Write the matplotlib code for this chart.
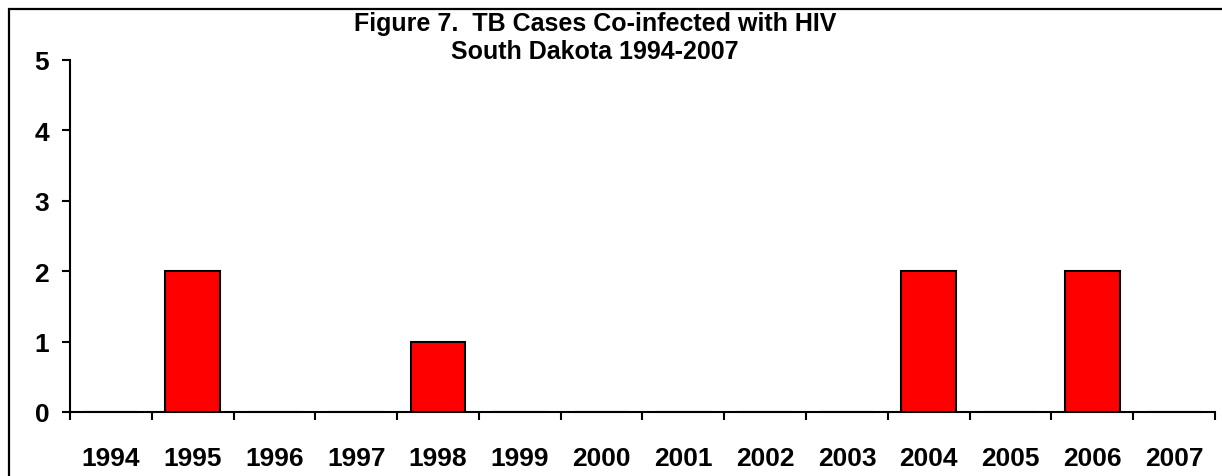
import matplotlib
matplotlib.use("Agg")
import matplotlib.pyplot as plt
from matplotlib.patches import Rectangle

years = ["1994", "1995", "1996", "1997", "1998", "1999", "2000",
         "2001", "2002", "2003", "2004", "2005", "2006", "2007"]
cases = [0, 2, 0, 0, 1, 0, 0, 0, 0, 0, 2, 0, 2, 0]
y_ticks = [0, 1, 2, 3, 4, 5]
title_lines = ["Figure 7.  TB Cases Co-infected with HIV", "South Dakota 1994-2007"]

plt.rcParams['font.family'] = ['Liberation Sans', 'DejaVu Sans']
plt.rcParams['font.weight'] = 'bold'

W, H = 1222, 477
fig = plt.figure(figsize=(W / 100, H / 100), dpi=100)

# outer frame (top and left visible)
fig.patches.append(Rectangle((9 / W, -0.1), 1.2, 1 - 10 / H + 0.1,
                             transform=fig.transFigure, fill=False,
                             edgecolor='black', linewidth=1.6))

ax = fig.add_axes([70 / W, 1 - 413 / H, (1215 - 70) / W, (413 - 61) / H])
x = list(range(len(years)))
ax.bar(x, cases, width=0.67, color='#ff0000', edgecolor='black', linewidth=1.5, zorder=3)

ax.set_xlim(-0.5, len(years) - 0.5)
ax.set_ylim(0, 5)
ax.set_yticks(y_ticks)
ax.set_yticklabels([str(v) for v in y_ticks], fontsize=19, fontweight='bold')

ax.set_xticks([i - 0.5 for i in range(len(years) + 1)])
ax.set_xticklabels([])
ax.set_xticks(x, minor=True)
ax.set_xticklabels(years, minor=True, fontsize=19, fontweight='bold')
ax.tick_params(axis='x', which='minor', length=0, pad=24.5)
ax.tick_params(axis='x', which='major', length=6, width=1.5, direction='out')
ax.tick_params(axis='y', length=6, width=1.5, direction='out', pad=9)

for s in ['top', 'right']:
    ax.spines[s].set_visible(False)
for s in ['left', 'bottom']:
    ax.spines[s].set_linewidth(1.5)

fig.text(595 / W, 1 - 24 / H, title_lines[0], ha='center', va='center',
         fontsize=18, fontweight='bold')
fig.text(595 / W, 1 - 52 / H, title_lines[1], ha='center', va='center',
         fontsize=18, fontweight='bold')

fig.savefig("out.png", dpi=100)
